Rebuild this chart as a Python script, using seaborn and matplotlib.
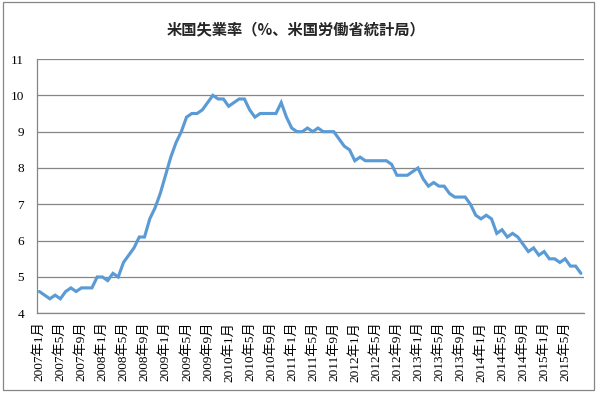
import numpy as np
import pandas as pd
import seaborn as sns
import matplotlib.pyplot as plt
from matplotlib.patches import Rectangle

# US unemployment rate (%), monthly, Jan 2007 - Aug 2015
rate_2007 = [4.6, 4.5, 4.4, 4.5, 4.4, 4.6, 4.7, 4.6, 4.7, 4.7, 4.7, 5.0]
rate_2008 = [5.0, 4.9, 5.1, 5.0, 5.4, 5.6, 5.8, 6.1, 6.1, 6.6, 6.9, 7.3]
rate_2009 = [7.8, 8.3, 8.7, 9.0, 9.4, 9.5, 9.5, 9.6, 9.8, 10.0, 9.9, 9.9]
rate_2010 = [9.7, 9.8, 9.9, 9.9, 9.6, 9.4, 9.5, 9.5, 9.5, 9.5, 9.8, 9.4]
rate_2011 = [9.1, 9.0, 9.0, 9.1, 9.0, 9.1, 9.0, 9.0, 9.0, 8.8, 8.6, 8.5]
rate_2012 = [8.2, 8.3, 8.2, 8.2, 8.2, 8.2, 8.2, 8.1, 7.8, 7.8, 7.8, 7.9]
rate_2013 = [8.0, 7.7, 7.5, 7.6, 7.5, 7.5, 7.3, 7.2, 7.2, 7.2, 7.0, 6.7]
rate_2014 = [6.6, 6.7, 6.6, 6.2, 6.3, 6.1, 6.2, 6.1, 5.9, 5.7, 5.8, 5.6]
rate_2015 = [5.7, 5.5, 5.5, 5.4, 5.5, 5.3, 5.3, 5.1]

# every 4th month is labelled on the axis
tick_labels = [
    "2007年1月", "2007年5月", "2007年9月",
    "2008年1月", "2008年5月", "2008年9月",
    "2009年1月", "2009年5月", "2009年9月",
    "2010年1月", "2010年5月", "2010年9月",
    "2011年1月", "2011年5月", "2011年9月",
    "2012年1月", "2012年5月", "2012年9月",
    "2013年1月", "2013年5月", "2013年9月",
    "2014年1月", "2014年5月", "2014年9月",
    "2015年1月", "2015年5月",
]
y_ticks = [4, 5, 6, 7, 8, 9, 10, 11]

rates = (rate_2007 + rate_2008 + rate_2009 + rate_2010 + rate_2011
         + rate_2012 + rate_2013 + rate_2014 + rate_2015)
data = pd.DataFrame({"month": np.arange(len(rates)), "rate": rates})

sns.set_theme(style="white")
plt.rcParams['font.family'] = ['Liberation Serif', 'Noto Sans CJK JP']

grey = "#868686"
blue = "#5B9BD5"

fig = plt.figure(figsize=(6.03, 3.95), dpi=100)
ax = fig.add_axes([0.0609, 0.2068, 0.9068, 0.6438])

sns.lineplot(data=data, x="month", y="rate", ax=ax, color=blue,
             linewidth=2.25, solid_joinstyle="miter")

ax.set_xlim(-0.5, len(rates) - 0.5)
ax.set_ylim(4, 11)
ax.set_yticks(y_ticks)
ax.set_xticks(np.arange(0, len(rates), 4))
ax.set_xticklabels(tick_labels, rotation=90, fontsize=9.5, color="black")
ax.tick_params(axis="y", labelsize=9.5, length=0, pad=9, colors="black")
ax.tick_params(axis="x", length=0, pad=6)
ax.set_xlabel("")
ax.set_ylabel("")

# horizontal grid like the Excel chart
ax.grid(axis="y", color=grey, linewidth=0.9)
ax.grid(axis="x", visible=False)
ax.set_axisbelow(True)
for side in ["top", "right"]:
    ax.spines[side].set_visible(False)
for side in ["left", "bottom"]:
    ax.spines[side].set_color(grey)
    ax.spines[side].set_linewidth(0.9)

fig.text(296 / 603, 1 - 29 / 395, "米国失業率（%、米国労働省統計局）",
         ha="center", va="center", fontsize=11, fontweight="bold",
         family=["Noto Sans CJK JP", "DejaVu Sans"])

# chart area frame
fig.patches.append(Rectangle((3 / 603, 5 / 395), 591 / 603, 388 / 395,
                             transform=fig.transFigure, fill=False,
                             edgecolor=grey, linewidth=0.9))

plt.savefig("out.png", dpi=100, facecolor="white")
